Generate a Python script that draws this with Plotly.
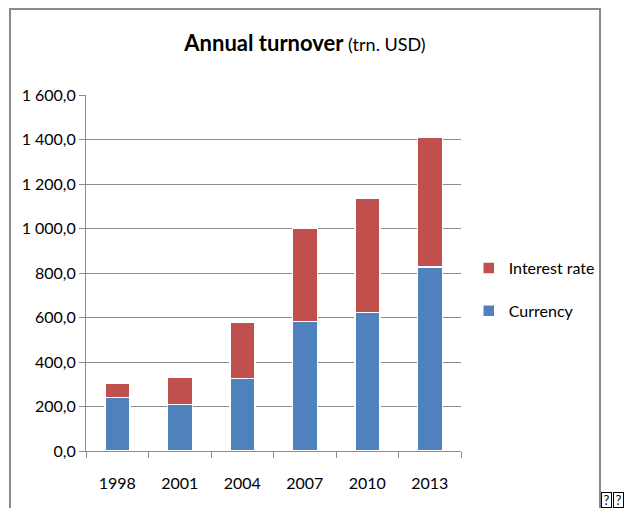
import plotly.graph_objects as go

years = ["1998", "2001", "2004", "2007", "2010", "2013"]
currency = [240, 210, 326, 581, 622, 826]
interest_rate = [63, 123, 254, 419, 514, 586]
ytick_vals = [0, 200, 400, 600, 800, 1000, 1200, 1400, 1600]
ytick_text = ["0,0", "200,0", "400,0", "600,0", "800,0", "1 000,0", "1 200,0", "1 400,0", "1 600,0"]

FONT = "Lato, Liberation Sans, sans-serif"
GRID = "#8c8c8c"

fig = go.Figure()
fig.add_trace(go.Bar(x=years, y=currency, name="Currency", legendgroup="a", legendrank=2,
                     marker=dict(color="#4F81BD", line=dict(color="white", width=1.5))))
fig.add_trace(go.Bar(x=years, y=interest_rate, name="Interest rate", legendgroup="b", legendrank=1,
                     marker=dict(color="#C0504D", line=dict(color="white", width=1.5))))

PL, PR, PT, PB = 86, 461, 95, 451
W, H = PR - PL, PB - PT

def px(x):
    return (x - PL) / W

def py(y):
    return (PB - y) / H

annotations = [
    dict(text="?", x=px(x0), y=py(492), xref="paper", yref="paper", showarrow=False,
         font=dict(family=FONT, size=13, color="#000"), bordercolor="#000", borderwidth=1,
         borderpad=0, width=9, height=14, xanchor="left", yanchor="top")
    for x0 in (601, 613)
]

fig.update_layout(
    width=625, height=508,
    barmode="stack", bargap=0.6,
    paper_bgcolor="white", plot_bgcolor="white",
    margin=dict(l=PL, r=625 - PR, t=PT, b=508 - PB, autoexpand=False),
    font=dict(family=FONT, size=16, color="#000000"),
    title=dict(
        text="<b>Annual turnover</b><span style='font-size:18px'> (trn. USD)</span>",
        font=dict(family=FONT, size=22, color="#000000"),
        xref="container", yref="container", x=0.488, y=1 - 43 / 508,
        xanchor="center", yanchor="middle",
    ),
    legend=dict(
        traceorder="grouped", tracegroupgap=19,
        xref="container", yref="container", x=0.75, y=1 - 251 / 508,
        xanchor="left", yanchor="top",
        font=dict(family=FONT, size=16, color="#000000"),
        bgcolor="rgba(0,0,0,0)", itemwidth=30,
    ),
    xaxis=dict(
        type="category", showline=True, linecolor=GRID, linewidth=1,
        ticks="outside", tickson="boundaries", ticklen=6, tickcolor=GRID,
        showgrid=False, tickfont=dict(family=FONT, size=16), ticklabelstandoff=18,
        automargin=False,
    ),
    yaxis=dict(
        range=[0, 1600], tickvals=ytick_vals, ticktext=ytick_text,
        showline=True, linecolor=GRID, linewidth=1,
        ticks="outside", ticklen=6, tickcolor=GRID,
        showgrid=True, gridcolor=GRID, gridwidth=1,
        tickfont=dict(family=FONT, size=16), zeroline=False, automargin=False,
    ),
    shapes=[
        dict(type="rect", xref="paper", yref="paper",
             x0=px(10), x1=px(600), y0=py(530), y1=py(9),
             line=dict(color="#8a8a8a", width=2), fillcolor="rgba(0,0,0,0)", layer="below"),
    ],
    annotations=annotations,
)

fig.write_html("out.html", config={"displayModeBar": False},
               post_script="document.body.style.margin='0';")
